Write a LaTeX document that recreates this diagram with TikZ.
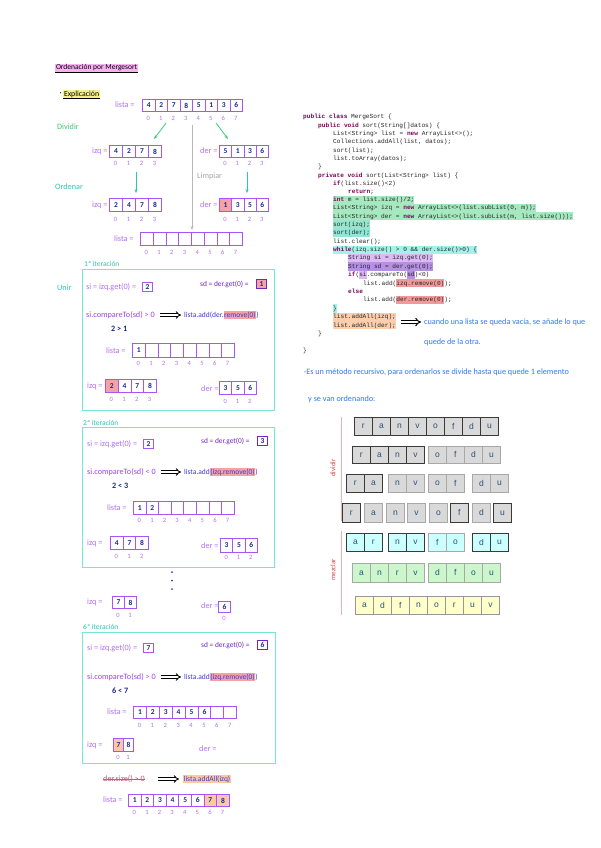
\documentclass[tikz,border=0pt]{standalone}
\usepackage{fontspec}
\setmainfont{Carlito}
\newfontfamily\codefont{Liberation Mono}
\newfontfamily\cellfont{Liberation Sans}
\usetikzlibrary{arrows.meta}
\definecolor{pur}{HTML}{A855F7}
\definecolor{purlab}{HTML}{B070F0}
\definecolor{purdark}{HTML}{7424C0}
\definecolor{purmid}{HTML}{9A45E8}
\definecolor{navy}{HTML}{1F2A8A}
\definecolor{addblue}{HTML}{4038D8}
\definecolor{tealb}{HTML}{74E6DA}
\definecolor{tealt}{HTML}{2FC4B4}
\definecolor{greent}{HTML}{3CC878}
\definecolor{hlred}{HTML}{F4A2A2}
\definecolor{hlor}{HTML}{F9C9A6}
\definecolor{hlpink}{HTML}{F7B2F2}
\definecolor{hlyel}{HTML}{F5F08A}
\definecolor{bluet}{HTML}{2F7AF0}
\definecolor{strk}{HTML}{D8507A}
\definecolor{kwc}{HTML}{7F0055}
\definecolor{cgreen}{HTML}{A6E8BF}
\definecolor{cgreen2}{HTML}{98E6CC}
\definecolor{cteal}{HTML}{8EE8D8}
\definecolor{ccyan}{HTML}{A3F2EA}
\definecolor{clpur}{HTML}{DDB9F6}
\definecolor{cpur}{HTML}{B690E2}
\definecolor{cred}{HTML}{F29A9A}
\definecolor{cpeach}{HTML}{FBCFAE}
\definecolor{rgray}{HTML}{D9D9D9}
\definecolor{rcyan}{HTML}{CCFFFF}
\definecolor{rgreen}{HTML}{CCF7CC}
\definecolor{ryel}{HTML}{FFFFCC}
\definecolor{rdark}{HTML}{3A3A3A}
\definecolor{rlight}{HTML}{A8A8A8}
\definecolor{rtext}{HTML}{2D5079}
\definecolor{divred}{HTML}{D04848}
\definecolor{divline}{HTML}{F0B0B0}
\newcommand{\hwf}{\fontsize{8.2}{9}\selectfont}
\newcommand{\hws}{\fontsize{7.5}{8}\selectfont}
\newcommand{\hwsd}{\fontsize{7.4}{8}\selectfont}
\newcommand{\kw}[1]{{\bfseries\color{kwc}#1}}
\newcommand{\hlc}[2]{{\setlength{\fboxsep}{0pt}\colorbox{#1}{\rule[-2.3pt]{0pt}{8.2pt}#2}}}
\newcommand{\hlh}[2]{{\setlength{\fboxsep}{0.6pt}\colorbox{#1}{#2}}}
\newcommand{\larr}[7]{%
  \foreach \v/\f [count=\i from 0] in {#6}{%
    \node[cellL, minimum width=#4pt, minimum height=#5pt, fill=\f] (#1\i) at ({#2+\i*#4},#3) {\v};
    \node[idx] (#1i\i) at ({#2+(\i+0.5)*#4},#7) {\i};
  }}
\newcommand{\rgrp}[7]{%
  \foreach \c [count=\i from 0] in {#7}{%
    \node[rcell, minimum height=#4pt, fill=#5, draw=#6] (#1\i) at ({#2+\i*18},#3) {\c};
  }}
\tikzset{
  cellL/.style={draw=pur, line width=0.9pt, inner sep=0pt, anchor=north west,
    font=\fontsize{7.5}{7.5}\selectfont\bfseries, text=navy},
  idx/.style={inner sep=0pt, font=\fontsize{6.5}{6.5}\selectfont, text=pur!85},
  hw/.style={inner sep=0pt, anchor=west, font=\hwf},
  sbox/.style={draw=pur, line width=0.9pt, inner sep=0pt, minimum width=10pt,
    minimum height=9pt, font=\fontsize{7.5}{7.5}\selectfont\bfseries, text=navy, anchor=north west},
  impl/.style={double, double distance=1.6pt, line width=0.9pt, -{Implies}, black},
  tealbox/.style={draw=tealb, line width=1pt},
  codeL/.style={inner sep=0pt, anchor=base west, text=black!85,
    font=\codefont\fontsize{6.15}{8}\selectfont},
  rcell/.style={anchor=north west, minimum width=18pt, inner sep=0pt, line width=0.8pt,
    font=\cellfont\fontsize{8.5}{8.5}\selectfont, text=rtext},
}
\begin{document}
\begin{tikzpicture}[x=1pt,y=-1pt]
\useasboundingbox (0,0) rectangle (600,848);
\fill[white] (0,0) rectangle (600,848);

% ---------- title ----------
\node[hw, fill=hlpink, inner sep=0.8pt, font=\fontsize{7.5}{8}\selectfont] (title) at (55,68) {Ordenación por Mergesort};
\draw[black, line width=0.5pt] (title.south west) -- (title.south east);
\node[hw] (dot1) at (59.5,94) {·};
\node[hw, fill=hlyel, inner sep=0.8pt, font=\fontsize{7.8}{8}\selectfont] (expl) at (63,94) {Explicación};
\draw[black, line width=0.5pt] (expl.south west) -- (expl.south east);

% ---------- explanation top ----------
\node[hw, text=purlab] (l0lab) at (115,105) {lista =};
\larr{la}{142}{99}{12.5}{12}{4/white,2/white,7/white,8/white,5/white,1/white,3/white,6/white}{118}
\node[hw, text=greent] (divlab) at (57,127) {Dividir};
\coordinate (g1s) at (166,123); \coordinate (g1e) at (154,139);
\coordinate (g2s) at (216,123); \coordinate (g2e) at (228,139);
\draw[greent, line width=0.8pt, -{Stealth[length=4pt]}] (g1s) -- (g1e);
\draw[greent, line width=0.8pt, -{Stealth[length=4pt]}] (g2s) -- (g2e);
\node[hw, text=purlab] (izqA) at (92,151) {izq =};
\larr{ia}{109}{145}{13}{12}{4/white,2/white,7/white,8/white}{163}
\node[hw, text=purlab] (derA) at (200,151) {der =};
\larr{da}{219}{145}{12.25}{12}{5/white,1/white,3/white,6/white}{163}

\coordinate (gs) at (192,125); \coordinate (ge) at (192,230);
\draw[black!28, line width=0.8pt, -{Stealth[length=4pt]}] (gs) -- (ge);
\node[hw, text=black!35] (limp) at (197,176) {Limpiar};

\coordinate (t1s) at (136,172); \coordinate (t1e) at (136,193);
\coordinate (t2s) at (247,172); \coordinate (t2e) at (247,193);
\draw[tealt, line width=0.9pt, -{Stealth[length=4pt]}] (t1s) -- (t1e);
\draw[tealt, line width=0.9pt, -{Stealth[length=4pt]}] (t2s) -- (t2e);
\node[hw, text=tealt] (ordlab) at (55,187) {Ordenar};
\node[hw, text=purlab] (izqB) at (92,205) {izq =};
\larr{ib}{109}{198}{13}{13}{2/white,4/white,7/white,8/white}{219}
\node[hw, text=purlab] (derB) at (200,205) {der =};
\larr{db}{219}{198}{12.25}{13}{1/hlred,3/white,5/white,6/white}{219}
\node[hw, text=purlab] (leLab) at (114,239) {lista =};
\larr{le}{140}{232}{12.75}{13}{{}/white,{}/white,{}/white,{}/white,{}/white,{}/white,{}/white,{}/white}{252}

% ---------- 1st iteration ----------
\node[hw, text=tealt, font=\hws] (it1lab) at (84,264) {1ª iteración};
\draw[tealbox] (82,269) rectangle (274,410);
\node[hw, text=tealt] (unir) at (57,288) {Unir};
\node[hw, text=purlab] (si1) at (86,287) {si = izq.get(0) =};
\node[sbox] (si1b) at (142,282) {2};
\node[hw, text=purdark, font=\hwsd] (sd1) at (200,284) {sd = der.get(0) =};
\node[sbox, draw=purdark, fill=hlred] (sd1b) at (256,279) {1};
\node[hw, text=purmid] (cmp1) at (86,315) {si.compareTo(sd) > 0};
\coordinate (a1s) at (160,315); \coordinate (a1e) at (181,315);
\draw[impl] (a1s) -- (a1e);
\node[hw, text=addblue, font=\hws] (add1) at (184,315) {lista.add(der.\hlh{hlred}{remove(0)})};
\node[hw, text=navy, font=\hwf\bfseries] (c1) at (111,329) {2 > 1};
\node[hw, text=purlab] (l1lab) at (106,351) {lista =};
\larr{lb}{132}{343}{12.75}{14}{1/white,{}/white,{}/white,{}/white,{}/white,{}/white,{}/white,{}/white}{363}
\node[hw, text=purlab] (izqC) at (87,386) {izq =};
\larr{ic}{105}{379}{12.75}{13}{2/hlred,4/white,7/white,8/white}{399}
\node[hw, text=purlab] (derC) at (201,389) {der =};
\larr{dc}{219}{381}{12.33}{13}{3/white,5/white,6/white}{401}

% ---------- 2nd iteration ----------
\node[hw, text=tealt, font=\hws] (it2lab) at (83,423) {2ª iteración};
\draw[tealbox] (82,427) rectangle (274,567);
\node[hw, text=purlab] (si2) at (87,444) {si = izq.get(0) =};
\node[sbox] (si2b) at (143,439) {2};
\node[hw, text=purdark, font=\hwsd] (sd2) at (201,441) {sd = der.get(0) =};
\node[sbox, draw=purdark] (sd2b) at (257,436) {3};
\node[hw, text=purmid] (cmp2) at (87,472) {si.compareTo(sd) < 0};
\coordinate (a2s) at (161,472); \coordinate (a2e) at (181,472);
\draw[impl] (a2s) -- (a2e);
\node[hw, text=addblue, font=\hws] (add2) at (184,472) {lista.add\hlh{hlred}{(izq.remove(0)})};
\node[hw, text=navy, font=\hwf\bfseries] (c2) at (112,486) {2 < 3};
\node[hw, text=purlab] (l2lab) at (107,508) {lista =};
\larr{lc}{133}{501}{12.6}{13}{1/white,2/white,{}/white,{}/white,{}/white,{}/white,{}/white,{}/white}{520}
\node[hw, text=purlab] (izqD) at (87,543) {izq =};
\larr{id}{110}{536}{12.67}{13}{4/white,7/white,8/white}{556}
\node[hw, text=purlab] (derD) at (201,546) {der =};
\larr{dd}{220}{538}{12.33}{14}{3/white,5/white,6/white}{557}

\fill[addblue] (172,572) circle (1pt) (172,580.5) circle (1pt) (172,589) circle (1pt);

\node[hw, text=purlab] (izqE) at (87,602) {izq =};
\larr{ie}{112}{596}{12}{12}{7/white,8/white}{615}
\node[hw, text=purlab] (derE) at (201,606) {der =};
\larr{de}{218}{601}{12}{11}{6/white}{618}

% ---------- 6th iteration ----------
\node[hw, text=tealt, font=\hws] (it3lab) at (83,627) {6ª iteración};
\draw[tealbox] (82,632) rectangle (275,763);
\node[hw, text=purlab] (si3) at (87,648) {si = izq.get(0) =};
\node[sbox] (si3b) at (143,643) {7};
\node[hw, text=purdark, font=\hwsd] (sd3) at (201,645) {sd = der.get(0) =};
\node[sbox, draw=purdark] (sd3b) at (257,640) {6};
\node[hw, text=purmid] (cmp3) at (87,677) {si.compareTo(sd) > 0};
\coordinate (a3s) at (161,677); \coordinate (a3e) at (181,677);
\draw[impl] (a3s) -- (a3e);
\node[hw, text=addblue, font=\hws] (add3) at (184,677) {lista.add\hlh{hlred}{(izq.remove(0)})};
\node[hw, text=navy, font=\hwf\bfseries] (c3) at (112,691) {6 < 7};
\node[hw, text=purlab] (l3lab) at (107,712) {lista =};
\larr{ld}{133}{706}{12.9}{12}{1/white,2/white,3/white,4/white,5/white,6/white,{}/white,{}/white}{725}
\node[hw, text=purlab] (izqF) at (87,745) {izq =};
\larr{if}{113}{738}{10}{13}{7/hlor,8/white}{757}
\node[hw, text=purlab] (derF) at (199,749) {der =};

% ---------- final ----------
\node[hw, text=strk] (strike) at (103,779) {der.size() > 0};
\draw[strk, line width=0.7pt] (strike.west) -- (strike.east);
\coordinate (a4s) at (158,779); \coordinate (a4e) at (179,779);
\draw[impl] (a4s) -- (a4e);
\node[hw, text=addblue, fill=hlor, inner sep=0.6pt, font=\hws] (addall) at (183,779) {lista.addAll(izq)};
\node[hw, text=purlab] (l4lab) at (103,800) {lista =};
\larr{lf}{128}{794}{12.6}{12}{1/white,2/white,3/white,4/white,5/white,6/white,7/hlor,8/hlor}{812}

% ---------- code ----------
\node[codeL] (k1) at (303,119) {\kw{public class} MergeSort \{};
\node[codeL] (k2) at (318,127.3) {\kw{public void} sort(String[]datos) \{};
\node[codeL] (k3) at (333,135.5) {List<String> list = \kw{new} ArrayList<>();};
\node[codeL] (k4) at (333,143.7) {Collections.addAll(list, datos);};
\node[codeL] (k5) at (333,152) {sort(list);};
\node[codeL] (k6) at (333,160.2) {list.toArray(datos);};
\node[codeL] (k7) at (318,168.5) {\}};
\node[codeL] (k8) at (318,177) {\kw{private void} sort(List<String> list) \{};
\node[codeL] (k9) at (333,185.2) {\kw{if}(list.size()<2)};
\node[codeL] (k10) at (348,193.4) {\kw{return};};
\node[codeL] (k11) at (333,201.6) {\hlc{cgreen}{\kw{int} m = list.size()/2;}};
\node[codeL] (k12) at (333,209.8) {\hlc{cgreen}{List<String> izq = \kw{new} ArrayList<>(list.subList(0, m));}};
\node[codeL] (k13) at (333,218) {\hlc{cgreen}{List<String> der = \kw{new} ArrayList<>(list.subList(m, list.size()));}};
\node[codeL] (k14) at (333,226.2) {\hlc{cgreen2}{sort(izq);}};
\node[codeL] (k15) at (333,234.6) {\hlc{cteal}{sort(der);}};
\node[codeL] (k16) at (333,243) {list.clear();};
\node[codeL] (k17) at (333,251.4) {\hlc{ccyan}{\kw{while}(izq.size() > 0 \&\& der.size()>0) \{}};
\node[codeL] (k18) at (348,259.8) {\hlc{clpur}{String si = izq.get(0);}};
\node[codeL] (k19) at (348,268.2) {\hlc{cpur}{String sd = der.get(0);}};
\node[codeL] (k20) at (348,276.6) {\kw{if}(\hlc{clpur}{si}.compareTo(\hlc{cpur}{sd})<0)};
\node[codeL] (k21) at (363,285) {list.add(\hlc{cred}{izq.remove(0)});};
\node[codeL] (k22) at (348,293.4) {\kw{else}};
\node[codeL] (k23) at (363,301.8) {list.add(\hlc{cred}{der.remove(0)});};
\node[codeL] (k24) at (333,310.2) {\hlc{ccyan}{\}}};
\node[codeL] (k25) at (333,318.6) {\hlc{cpeach}{list.addAll(izq);}};
\node[codeL] (k26) at (333,327) {\hlc{cpeach}{list.addAll(der);}};
\node[codeL] (k27) at (318,335.4) {\}};
\node[codeL] (k28) at (303,352) {\}};

\coordinate (a5s) at (401,322); \coordinate (a5e) at (421,322);
\draw[impl, line width=1pt, double distance=1.8pt] (a5s) -- (a5e);
\node[hw, text=bluet] (ann1) at (424,322) {cuando una lista se queda vacía, se añade lo que};
\node[hw, text=bluet] (ann2) at (424,342) {quede de la otra.};

\node[hw, text=bluet] (rec1) at (304,372) {·Es un método recursivo, para ordenarlos se divide hasta que quede 1 elemento};
\node[hw, text=bluet] (rec2) at (308,399) {y se van ordenando:};

% ---------- right diagram ----------
\draw[divline, line width=0.8pt] (341,417) -- (341,521);
\node[text=divred, rotate=90, inner sep=0pt, font=\fontsize{7}{7}\selectfont] (dividir) at (333,468) {dividir};
\draw[divline, line width=0.8pt] (341,531) -- (341,615);
\node[text=divred, rotate=90, inner sep=0pt, font=\fontsize{7}{7}\selectfont] (mezclar) at (333,570) {mezclar};

\rgrp{ra}{354}{417}{18}{rgray}{rdark}{r,a,n,v,o,f,d,u}
\rgrp{rb}{352}{446}{17}{rgray}{rdark}{r,a,n,v}
\rgrp{rc}{428}{446}{17}{rgray}{rlight}{o,f,d,u}
\rgrp{rd}{346}{474}{18}{rgray}{rdark}{r,a}
\rgrp{re}{388}{474}{18}{rgray}{rlight}{n,v}
\rgrp{rf}{428}{474}{18}{rgray}{rlight}{o,f}
\rgrp{rg}{472}{474}{18}{rgray}{rlight}{d,u}
\node[rcell, minimum height=19pt, fill=rgray, draw=rdark] (s0) at (342,503) {r};
\node[rcell, minimum height=19pt, fill=rgray, draw=rlight] (s1) at (364,503) {a};
\node[rcell, minimum height=19pt, fill=rgray, draw=rlight] (s2) at (386,503) {n};
\node[rcell, minimum height=19pt, fill=rgray, draw=rlight] (s3) at (407,503) {v};
\node[rcell, minimum height=19pt, fill=rgray, draw=rlight] (s4) at (429,503) {o};
\node[rcell, minimum height=19pt, fill=rgray, draw=rdark] (s5) at (450,503) {f};
\node[rcell, minimum height=19pt, fill=rgray, draw=rlight] (s6) at (472,503) {d};
\node[rcell, minimum height=19pt, fill=rgray, draw=rdark] (s7) at (493,503) {u};
\rgrp{rh}{346}{533}{18}{rcyan}{rdark}{a,r}
\rgrp{ri}{388}{533}{18}{rcyan}{rdark}{n,v}
\rgrp{rj}{428}{533}{18}{rcyan}{rlight}{f,o}
\rgrp{rk}{472}{533}{18}{rcyan}{rdark}{d,u}
\rgrp{rl}{352}{563}{19}{rgreen}{rlight}{a,n,r,v}
\rgrp{rm}{428}{563}{19}{rgreen}{rlight}{d,f,o,u}
\rgrp{rn}{355}{596}{18}{ryel}{rlight!120}{a,d,f,n,o,r,u,v}
\end{tikzpicture}
\end{document}
